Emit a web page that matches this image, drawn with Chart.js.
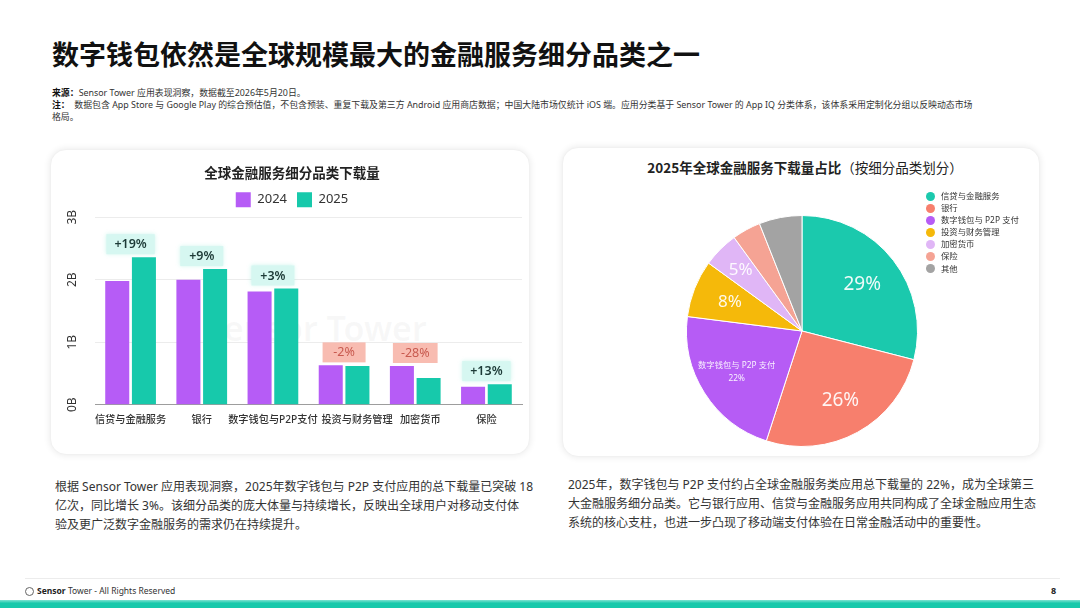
<!DOCTYPE html>
<html><head><meta charset="utf-8">
<script src="https://cdn.jsdelivr.net/npm/chart.js@4.4.1/dist/chart.umd.min.js"></script>
<style>
html,body{margin:0;padding:0;background:#fff;}
body{width:1080px;height:608px;position:relative;overflow:hidden;font-family:"Noto Sans","Noto Sans CJK SC",sans-serif;color:#222;}
.abs{position:absolute;}
#title{left:52px;top:39px;font-size:27px;line-height:30px;font-weight:700;font-family:"Noto Sans CJK SC",sans-serif;color:#111;white-space:nowrap;}
.note{left:52px;font-size:8.9px;line-height:12px;color:#333;white-space:nowrap;}
.note b{font-weight:700;color:#111;}
.card{background:#fff;border-radius:16px;box-shadow:0 0 7px rgba(0,0,0,0.09);border:1px solid #f1f1f1;box-sizing:border-box;}
.para{font-size:12px;line-height:19px;color:#333;white-space:nowrap;}
.ctitle{font-size:13.5px;font-weight:700;color:#222;white-space:nowrap;text-align:center;font-family:"Noto Sans CJK SC",sans-serif;}
.ctitle span{font-weight:400;}
#pieLegend{left:926px;top:190px;font-size:8.4px;color:#333;}
#pieLegend div{height:12.1px;line-height:12.1px;white-space:nowrap;display:flex;align-items:center;}
#pieLegend i{display:inline-block;width:9px;height:9px;border-radius:50%;margin-right:6px;}
.wm{font-size:34px;font-weight:600;color:rgba(170,170,170,0.09);white-space:nowrap;pointer-events:none;}
</style></head>
<body>
<div id="title" class="abs">数字钱包依然是全球规模最大的金融服务细分品类之一</div>
<div class="abs note" style="top:87px;"><b>来源：</b>Sensor Tower 应用表现洞察，数据截至2026年5月20日。</div>
<div class="abs note" style="top:98.5px;"><b>注：</b>&nbsp;&nbsp;数据包含 App Store 与 Google Play 的综合预估值，不包含预装、重复下载及第三方 Android 应用商店数据；中国大陆市场仅统计 iOS 端。应用分类基于 Sensor Tower 的 App IQ 分类体系，该体系采用定制化分组以反映动态市场<br>格局。</div>

<div class="abs card" style="left:50px;top:149px;width:480px;height:306px;"></div>
<div class="abs card" style="left:562px;top:147px;width:478px;height:310px;"></div>

<div class="abs wm" style="left:205px;top:305px;">Sensor Tower</div>
<div class="abs wm" style="left:690px;top:305px;">Sensor Tower</div>

<div class="abs" style="left:44px;top:150px;width:492px;height:305px;"><canvas id="bar"></canvas></div>

<div class="abs ctitle" style="left:562px;top:157px;width:486px;">2025年全球金融服务下载量占比<span>（按细分品类划分）</span></div>
<div class="abs" style="left:662px;top:191px;width:280px;height:280px;"><canvas id="pie"></canvas></div>
<div id="pieLegend" class="abs"></div>

<div class="abs para" style="left:55px;top:477px;">根据 Sensor Tower 应用表现洞察，2025年数字钱包与 P2P 支付应用的总下载量已突破 18<br>亿次，同比增长 3%。该细分品类的庞大体量与持续增长，反映出全球用户对移动支付体<br>验及更广泛数字金融服务的需求仍在持续提升。</div>
<div class="abs para" style="left:568px;top:475px;">2025年，数字钱包与 P2P 支付约占全球金融服务类应用总下载量的 22%，成为全球第三<br>大金融服务细分品类。它与银行应用、信贷与金融服务应用共同构成了全球金融应用生态<br>系统的核心支柱，也进一步凸现了移动端支付体验在日常金融活动中的重要性。</div>

<div class="abs" style="left:25px;top:578px;width:1035px;height:1px;background:#ececec;"></div>
<div class="abs" style="left:25px;top:585px;font-size:8.5px;line-height:12px;color:#333;white-space:nowrap;display:flex;align-items:center;">
<span style="display:inline-block;width:9px;height:9px;border:1px solid #666;border-radius:50%;margin-right:3px;box-sizing:border-box;"></span><b style="color:#222;">Sensor</b>&nbsp;Tower - All Rights Reserved</div>
<div class="abs" style="left:1051px;top:585px;font-size:9px;line-height:12px;font-weight:700;color:#222;">8</div>
<div class="abs" style="left:0;top:600px;width:1080px;height:8px;background:linear-gradient(#7fe3d2,#17c9ab 40%);"></div>

<script>
// ---------- data ----------
const barCategories = ['信贷与金融服务','银行','数字钱包与P2P支付','投资与财务管理','加密货币','保险'];
const seriesNames = ['2024','2025'];
const downloads2024 = [1.98, 2.00, 1.81, 0.63, 0.62, 0.29];
const downloads2025 = [2.36, 2.17, 1.86, 0.62, 0.43, 0.33];
const yoyChange = ['+19%','+9%','+3%','-2%','-28%','+13%'];
const yTickLabels = ['0B','1B','2B','3B'];

const pieCategories = ['信贷与金融服务','银行','数字钱包与 P2P 支付','投资与财务管理','加密货币','保险','其他'];
const pieShares = [29, 26, 22, 8, 5, 4, 6];
const pieSliceLabels = ['29%','26%','数字钱包与 P2P 支付\n22%','8%','5%','',''];

// ---------- styles ----------
const FAMILY = '"Noto Sans","Noto Sans CJK SC",sans-serif';
const PURPLE = '#b65cf6', TEAL = '#17c9ab';
const pieColors = ['#1bc9ad','#f77f6d','#b65cf5','#f5b90a','#e0b6f6','#f5a394','#a3a3a3'];
const xLabelShift = [0, 0, 0, 13, 5, 0];

Chart.defaults.font.family = FAMILY;
Chart.defaults.color = '#333';

document.getElementById('pieLegend').innerHTML =
  pieCategories.map((c,i)=>`<div><i style="background:${pieColors[i]}"></i>${c}</div>`).join('');

const changeLabels = {
  id:'changeLabels',
  afterDatasetsDraw(chart){
    const xs = chart.scales.x, ys = chart.scales.y, ctx = chart.ctx;
    yoyChange.forEach((t,i)=>{
      const cx = xs.getPixelForValue(i);
      const top = ys.getPixelForValue(Math.max(downloads2024[i], downloads2025[i]));
      const neg = t.startsWith('-');
      ctx.save();
      ctx.font = `${neg?400:600} 12.5px ${FAMILY}`;
      const w = Math.max(43, ctx.measureText(t).width + 16), h = 20;
      const bx = cx - w/2, by = top - 3 - h;
      if(!neg){ ctx.shadowColor='rgba(120,230,210,0.35)'; ctx.shadowBlur=4; }
      ctx.fillStyle = neg ? '#f8bcb1' : '#d6f7f1';
      ctx.fillRect(bx, by, w, h);
      ctx.shadowBlur = 0;
      ctx.fillStyle = neg ? '#c85a4f' : '#1d3a37';
      ctx.textAlign = 'center'; ctx.textBaseline = 'middle';
      ctx.fillText(t, cx, by + h/2 + 0.5);
      ctx.restore();
    });
    ctx.save();
    ctx.font = `500 10.2px ${FAMILY}`;
    ctx.fillStyle = '#333'; ctx.textAlign = 'center'; ctx.textBaseline = 'middle';
    const ly = chart.chartArea.bottom + 15;
    barCategories.forEach((c,i)=>ctx.fillText(c, xs.getPixelForValue(i) + xLabelShift[i], ly));
    ctx.restore();
  }
};

new Chart(document.getElementById('bar'), {
  type:'bar',
  data:{
    labels: barCategories,
    datasets:[
      {label:seriesNames[0], data:downloads2024, backgroundColor:PURPLE, borderWidth:0},
      {label:seriesNames[1], data:downloads2025, backgroundColor:TEAL, borderWidth:0}
    ]
  },
  options:{
    responsive:true, maintainAspectRatio:false, animation:false,
    categoryPercentage:0.75, barPercentage:0.9,
    layout:{padding:{left:18,right:14,bottom:22,top:0}},
    plugins:{
      title:{display:true, text:'全球金融服务细分品类下载量', color:'#222',
        font:{size:13.5, weight:'bold', family:'"Noto Sans CJK SC",sans-serif'}, padding:{top:14.5,bottom:1.5}},
      legend:{display:true, labels:{boxWidth:15, boxHeight:15, padding:10, color:'#333', font:{size:13}}},
      tooltip:{enabled:false}
    },
    scales:{
      x:{grid:{display:false, drawTicks:false}, border:{display:true, color:'#9d9d9d', width:1},
         ticks:{padding:8, color:'rgba(0,0,0,0)', font:{size:10.2, weight:'500'}, autoSkip:false, maxRotation:0}},
      y:{min:0, max:3, grid:{color:'#ececec', drawTicks:false}, border:{display:false},
         afterFit:(scale)=>{ scale.width = 33; },
         ticks:{stepSize:1, padding:15, minRotation:90, maxRotation:90, crossAlign:'center',
           color:'#333', font:{size:12}, callback:(v)=>yTickLabels[v]}}
    }
  },
  plugins:[changeLabels]
});

const pieLabelPlugin = {
  id:'pieLabels',
  afterDatasetsDraw(chart, args, opts){
    const meta = chart.getDatasetMeta(0), ctx = chart.ctx;
    meta.data.forEach((arc,i)=>{
      const text = pieSliceLabels[i]; if(!text) return;
      const p = arc.getProps(['x','y','startAngle','endAngle','outerRadius'], true);
      const mid = (p.startAngle + p.endAngle)/2;
      const r = p.outerRadius * opts.radius[i];
      const px = p.x + Math.cos(mid)*r, py = p.y + Math.sin(mid)*r;
      const lines = text.split('\n'); const fs = opts.size[i]; const lh = fs*1.6;
      ctx.save();
      ctx.fillStyle = opts.color; ctx.font = `${fs}px ${FAMILY}`;
      ctx.textAlign = 'center'; ctx.textBaseline = 'middle';
      lines.forEach((l,k)=>ctx.fillText(l, px, py + (k-(lines.length-1)/2)*lh));
      ctx.restore();
    });
  }
};

new Chart(document.getElementById('pie'), {
  type:'pie',
  data:{ labels: pieCategories, datasets:[{data:pieShares, backgroundColor:pieColors, borderColor:'#ffffff', borderWidth:1}] },
  options:{
    responsive:true, maintainAspectRatio:false, animation:false,
    layout:{padding:24},
    plugins:{
      legend:{display:false}, tooltip:{enabled:false},
      pieLabels:{color:'rgba(255,255,255,0.92)', radius:[0.66,0.69,0.67,0.67,0.75,0,0], size:[19,19,8.3,17,17,0,0]}
    }
  },
  plugins:[pieLabelPlugin]
});
</script>
</body></html>
